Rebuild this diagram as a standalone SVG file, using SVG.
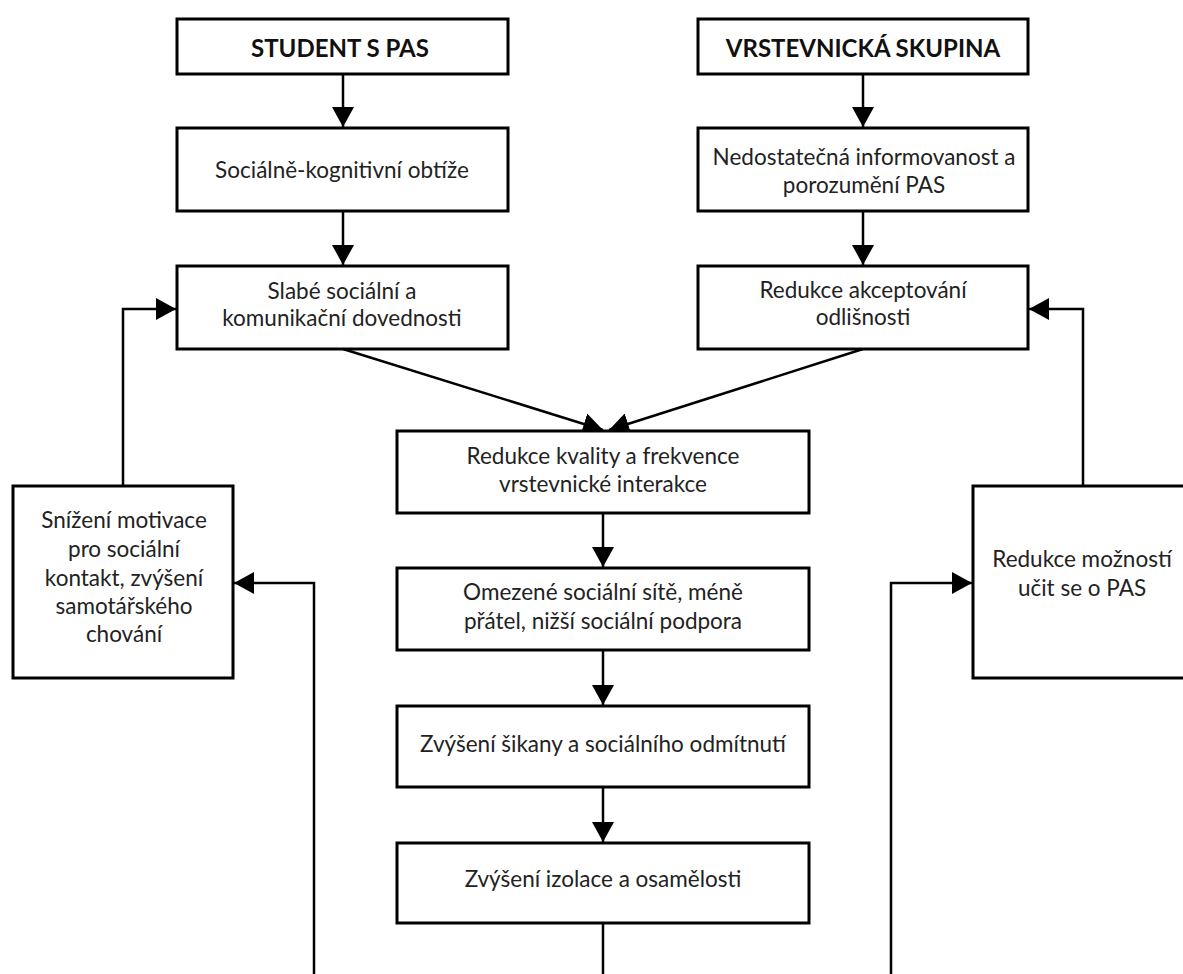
<svg xmlns="http://www.w3.org/2000/svg" width="1183" height="974" viewBox="0 0 1183 974">
  <defs>
    <marker id="arrow" viewBox="0 0 20 22" refX="20" refY="11" markerWidth="20" markerHeight="22" markerUnits="userSpaceOnUse" orient="auto">
      <path d="M0,0 L20,11 L0,22 Z" fill="#000"/>
    </marker>
    <style>
      .box { fill: #fff; stroke: #000; stroke-width: 3; }
      .txt { font-family: Lato, "Open Sans", "DejaVu Sans", sans-serif; font-size: 22.5px; fill: #222; text-anchor: middle; }
      .hdr { font-family: Lato, "Open Sans", "DejaVu Sans", sans-serif; font-size: 24px; font-weight: bold; fill: #111; text-anchor: middle; }
      .con { fill: none; stroke: #000; stroke-width: 2.5; }
      .arr { marker-end: url(#arrow); }
    </style>
  </defs>
  <rect width="1183" height="974" fill="#fff"/>

  <g id="connectors">
    <line class="con arr" x1="343" y1="74" x2="343" y2="127"/>
    <line class="con arr" x1="343" y1="211" x2="343" y2="265"/>
    <line class="con arr" x1="863" y1="74" x2="863" y2="127"/>
    <line class="con arr" x1="863" y1="211" x2="863" y2="265"/>
    <line class="con arr" x1="343" y1="349" x2="603" y2="430"/>
    <line class="con arr" x1="863" y1="349" x2="609" y2="430"/>
    <line class="con arr" x1="603" y1="513" x2="603" y2="567"/>
    <line class="con arr" x1="603" y1="650" x2="603" y2="705"/>
    <line class="con arr" x1="603" y1="787" x2="603" y2="842"/>
    <line class="con" x1="603" y1="923" x2="603" y2="980"/>
    <polyline class="con arr" points="123,486 123,309 176,309"/>
    <polyline class="con arr" points="314,980 314,583 234,583"/>
    <polyline class="con arr" points="1083,486 1083,309 1029,309"/>
    <polyline class="con arr" points="891,980 891,583 972,583"/>
  </g>

  <g id="student">
    <rect class="box" x="177" y="19" width="331" height="55"/>
    <text class="hdr" x="340" y="57">STUDENT S PAS</text>
  </g>
  <g id="socialne-kognitivni">
    <rect class="box" x="177" y="128" width="331" height="83"/>
    <text class="txt" x="342" y="178">Sociálně-kognitivní obtíže</text>
  </g>
  <g id="slabe-dovednosti">
    <rect class="box" x="177" y="266" width="331" height="83"/>
    <text class="txt" x="342" y="299">Slabé sociální a</text>
    <text class="txt" x="342" y="326">komunikační dovednosti</text>
  </g>

  <g id="vrstevnicka">
    <rect class="box" x="698" y="19" width="330" height="55"/>
    <text class="hdr" x="863" y="57">VRSTEVNICKÁ SKUPINA</text>
  </g>
  <g id="nedostatecna">
    <rect class="box" x="698" y="128" width="330" height="83"/>
    <text class="txt" x="864" y="165">Nedostatečná informovanost a</text>
    <text class="txt" x="864" y="193">porozumění PAS</text>
  </g>
  <g id="redukce-akceptovani">
    <rect class="box" x="698" y="266" width="330" height="83"/>
    <text class="txt" x="863" y="298">Redukce akceptování</text>
    <text class="txt" x="863" y="325">odlišnosti</text>
  </g>

  <g id="redukce-kvality">
    <rect class="box" x="397" y="431" width="412" height="82"/>
    <text class="txt" x="603" y="464">Redukce kvality a frekvence</text>
    <text class="txt" x="603" y="492">vrstevnické interakce</text>
  </g>
  <g id="omezene-site">
    <rect class="box" x="397" y="568" width="412" height="82"/>
    <text class="txt" x="603" y="600">Omezené sociální sítě, méně</text>
    <text class="txt" x="603" y="629">přátel, nižší sociální podpora</text>
  </g>
  <g id="sikana">
    <rect class="box" x="397" y="706" width="412" height="81"/>
    <text class="txt" x="603" y="752">Zvýšení šikany a sociálního odmítnutí</text>
  </g>
  <g id="izolace">
    <rect class="box" x="397" y="843" width="412" height="80"/>
    <text class="txt" x="603" y="887">Zvýšení izolace a osamělosti</text>
  </g>

  <g id="snizeni-motivace">
    <rect class="box" x="13" y="486" width="220" height="192"/>
    <text class="txt" x="124" y="528">Snížení motivace</text>
    <text class="txt" x="124" y="557">pro sociální</text>
    <text class="txt" x="124" y="586">kontakt, zvýšení</text>
    <text class="txt" x="124" y="614">samotářského</text>
    <text class="txt" x="124" y="642">chování</text>
  </g>
  <g id="redukce-moznosti">
    <rect class="box" x="973" y="486" width="220" height="192"/>
    <text class="txt" x="1082" y="567">Redukce možností</text>
    <text class="txt" x="1082" y="596">učit se o PAS</text>
  </g>
</svg>
